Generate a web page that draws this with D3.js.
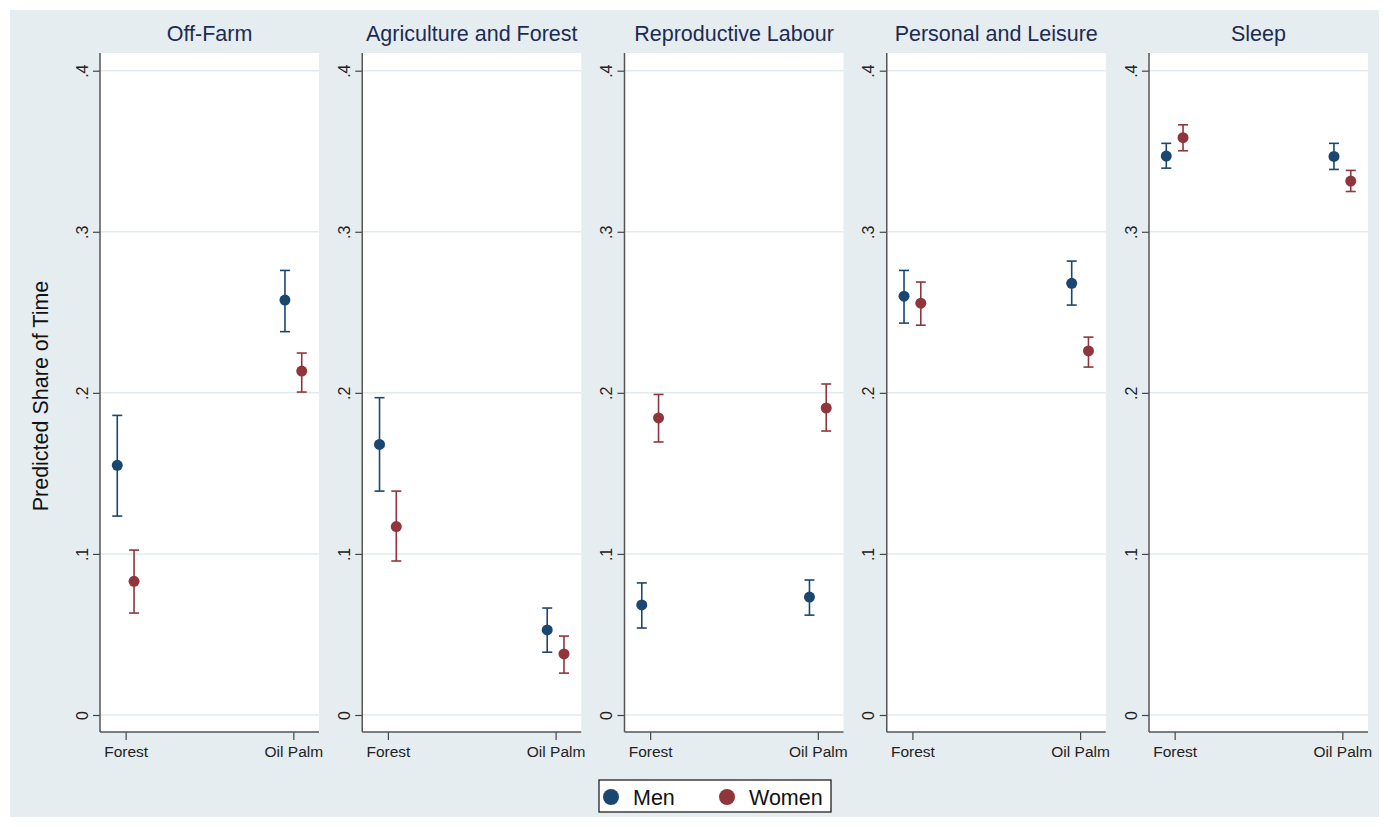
<!DOCTYPE html>
<html>
<head>
<meta charset="utf-8">
<script src="https://cdn.jsdelivr.net/npm/d3@7"></script>
<style>
  html, body { margin: 0; padding: 0; background: #ffffff; }
  svg { display: block; font-family: "Liberation Sans", Arial, Helvetica, sans-serif; }
</style>
</head>
<body>
<svg id="chart" width="1389" height="827"></svg>
<script>
// Panel titles (one panel per time-use activity)
const panels = ["Off-Farm", "Agriculture and Forest", "Reproductive Labour", "Personal and Leisure", "Sleep"];
// Land-use categories on the x axis
const categories = ["Forest", "Oil Palm"];
const groups = ["Men", "Women"];

// Predicted share of time, [Forest, Oil Palm] per panel
const menEst   = [[0.155, 0.2576], [0.168, 0.0528], [0.0683, 0.0732], [0.260, 0.268], [0.347, 0.3468]];
const menLo    = [[0.1235, 0.238], [0.139, 0.039], [0.054, 0.062], [0.2433, 0.2545], [0.3395, 0.3387]];
const menHi    = [[0.186, 0.276], [0.197, 0.0664], [0.082, 0.0838], [0.276, 0.2818], [0.3549, 0.3549]];
const womenEst = [[0.083, 0.2135], [0.117, 0.0379], [0.1844, 0.1906], [0.2557, 0.226], [0.3584, 0.3315]];
const womenLo  = [[0.0633, 0.2005], [0.0956, 0.026], [0.1695, 0.1763], [0.242, 0.216], [0.3503, 0.325]];
const womenHi  = [[0.1024, 0.2247], [0.139, 0.049], [0.199, 0.2055], [0.2688, 0.2346], [0.3664, 0.3381]];

// Y axis ticks
const yTicks = [0, 0.1, 0.2, 0.3, 0.4];
const yTickLabels = ["0", ".1", ".2", ".3", ".4"];

const colors = { Men: "#1a476f", Women: "#90353b" };

const svg = d3.select("#chart");
const W = 1389, H = 827;

// Graph region background
svg.append("rect").attr("x", 10).attr("y", 10).attr("width", W - 20).attr("height", H - 20)
  .attr("fill", "#e6edf1");

// Layout of each panel
const panelLeft0 = 100, panelStep = 262.25, plotW = 219;
const plotTop = 53, plotBottom = 732;

const y = d3.scaleLinear().domain([0, 0.4]).range([715, 70.7]);
const x = d3.scaleLinear().domain([0.847, 2.153]).range([0, plotW]);
const dodge = d3.scaleOrdinal().domain(groups).range([-0.05, 0.05]);

const series = [
  { group: "Men", est: menEst, lo: menLo, hi: menHi },
  { group: "Women", est: womenEst, lo: womenLo, hi: womenHi }
];

panels.forEach((title, p) => {
  const g = svg.append("g").attr("transform", `translate(${panelLeft0 + p * panelStep},0)`);

  // Plot region
  g.append("rect").attr("x", 0).attr("y", plotTop).attr("width", plotW).attr("height", plotBottom - plotTop)
    .attr("fill", "#ffffff");

  // Horizontal gridlines
  g.selectAll("line.grid").data(yTicks).join("line")
    .attr("class", "grid")
    .attr("x1", 0).attr("x2", plotW)
    .attr("y1", d => y(d)).attr("y2", d => y(d))
    .attr("stroke", "#e1ebef").attr("stroke-width", 1.5);

  // Title
  g.append("text").attr("x", plotW / 2).attr("y", 41)
    .attr("text-anchor", "middle").attr("font-size", 21.5).attr("fill", "#1c2b52")
    .text(title);

  // Y axis
  const yAxis = d3.axisLeft(y).tickValues(yTicks).tickFormat((d, i) => yTickLabels[i]).tickSize(7).tickPadding(4);
  const ya = g.append("g").call(yAxis);
  ya.select(".domain").remove();
  ya.selectAll(".tick line").attr("stroke", "#444").attr("stroke-width", 1.2);
  ya.selectAll(".tick text")
    .attr("font-size", 16).attr("fill", "#222")
    .attr("x", 0).attr("y", 0).attr("dx", 0)
    .attr("text-anchor", "middle")
    .attr("transform", "translate(-18,0) rotate(-90)")
    .attr("dy", "0.35em");
  g.append("line").attr("x1", 0).attr("x2", 0).attr("y1", plotTop).attr("y2", plotBottom)
    .attr("stroke", "#555").attr("stroke-width", 1.5);

  // X axis
  const xAxis = d3.axisBottom(x).tickValues([1, 2]).tickFormat((d, i) => categories[i]).tickSize(8).tickPadding(6);
  const xa = g.append("g").attr("transform", `translate(0,${plotBottom})`).call(xAxis);
  xa.select(".domain").remove();
  xa.selectAll(".tick line").attr("stroke", "#444").attr("stroke-width", 1.2);
  xa.selectAll(".tick text").attr("font-size", 15.5).attr("fill", "#222");
  g.append("line").attr("x1", 0).attr("x2", plotW).attr("y1", plotBottom).attr("y2", plotBottom)
    .attr("stroke", "#555").attr("stroke-width", 1.5);

  // Estimates with confidence intervals
  series.forEach(s => {
    const pts = categories.map((c, i) => ({
      cx: x(i + 1 + dodge(s.group)),
      est: s.est[p][i], lo: s.lo[p][i], hi: s.hi[p][i]
    }));
    const col = colors[s.group];
    const sg = g.append("g");
    sg.selectAll("line.ci").data(pts).join("line")
      .attr("x1", d => d.cx).attr("x2", d => d.cx)
      .attr("y1", d => y(d.lo)).attr("y2", d => y(d.hi))
      .attr("stroke", col).attr("stroke-width", 1.6);
    sg.selectAll("line.capHi").data(pts).join("line")
      .attr("x1", d => d.cx - 5).attr("x2", d => d.cx + 5)
      .attr("y1", d => y(d.hi)).attr("y2", d => y(d.hi))
      .attr("stroke", col).attr("stroke-width", 1.6);
    sg.selectAll("line.capLo").data(pts).join("line")
      .attr("x1", d => d.cx - 5).attr("x2", d => d.cx + 5)
      .attr("y1", d => y(d.lo)).attr("y2", d => y(d.lo))
      .attr("stroke", col).attr("stroke-width", 1.6);
    sg.selectAll("circle").data(pts).join("circle")
      .attr("cx", d => d.cx).attr("cy", d => y(d.est)).attr("r", 5.5)
      .attr("fill", col);
  });
});

// Y axis title
svg.append("text")
  .attr("transform", "translate(48,396) rotate(-90)")
  .attr("text-anchor", "middle").attr("font-size", 21.5).attr("fill", "#111")
  .text("Predicted Share of Time");

// Legend
const lg = svg.append("g");
lg.append("rect").attr("x", 599).attr("y", 780).attr("width", 232).attr("height", 32)
  .attr("fill", "#ffffff").attr("stroke", "#111").attr("stroke-width", 1.2);
const legendX = [611, 727];
groups.forEach((grp, i) => {
  lg.append("circle").attr("cx", legendX[i]).attr("cy", 797).attr("r", 8).attr("fill", colors[grp]);
  lg.append("text").attr("x", legendX[i] + 22).attr("y", 805).attr("font-size", 21.5).attr("fill", "#111").text(grp);
});
</script>
</body>
</html>
